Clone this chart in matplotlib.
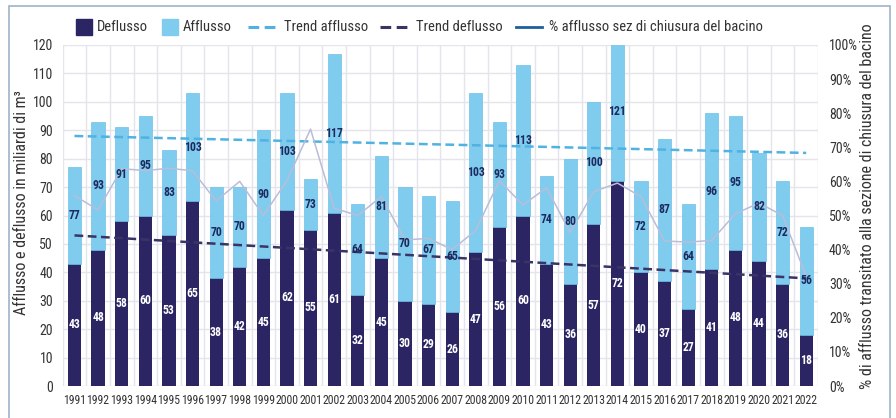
import numpy as np
import matplotlib
matplotlib.use("Agg")
import matplotlib.pyplot as plt
from matplotlib import font_manager
from matplotlib.lines import Line2D
from matplotlib.patches import Rectangle

# Data (miliardi di m3)
years = [str(y) for y in range(1991, 2023)]
afflusso = [77, 93, 91, 95, 83, 103, 70, 70, 90, 103, 73, 117, 64, 81, 70, 67,
            65, 103, 93, 113, 74, 80, 100, 121, 72, 87, 64, 96, 95, 82, 72, 56]
deflusso = [43, 48, 58, 60, 53, 65, 38, 42, 45, 62, 55, 61, 32, 45, 30, 29,
            26, 47, 56, 60, 43, 36, 57, 72, 40, 37, 27, 41, 48, 44, 36, 18]

DARK = '#2b2563'
LIGHT = '#80ccef'
TREND_A = '#4fb2e2'
TREND_D = '#3a3466'
PCT_LINE = '#b9bdd8'
PCT_LEG = '#1f5f9c'
GRID = '#e4e5eb'
TEXT = '#333333'

# pick a condensed font if there is one
names = {f.name for f in font_manager.fontManager.ttflist}
family = 'DejaVu Sans'
for cand in ['Liberation Sans Narrow', 'Roboto Condensed', 'Open Sans Condensed']:
    if cand in names:
        family = cand
        break
plt.rcParams['font.family'] = [family, 'DejaVu Sans']
if family == 'DejaVu Sans':
    plt.rcParams['font.stretch'] = 'condensed'

W, H = 896, 418
fx = lambda px: px / W
fy = lambda py: 1 - py / H

fig = plt.figure(figsize=(W / 100, H / 100), dpi=100)
ax = fig.add_axes([fx(62.7), fy(386), fx(818) - fx(62.7), fy(45) - fy(386)])
ax2 = ax.twinx()

x = np.arange(len(years))
aff = np.array(afflusso)
dfl = np.array(deflusso)

ax.bar(x, dfl, width=0.56, color=DARK, zorder=2)
ax.bar(x, aff - dfl, bottom=dfl, width=0.56, color=LIGHT, edgecolor='#6dc0ea',
       linewidth=0.5, zorder=2)

# linear trends
pa = np.polyfit(x, aff, 1)
pd_ = np.polyfit(x, dfl, 1)
ax.plot(x, np.polyval(pa, x), ls=(0, (3.5, 1.8)), color=TREND_A, lw=1.8, zorder=3)
ax.plot(x, np.polyval(pd_, x), ls=(0, (3.5, 1.8)), color=TREND_D, lw=1.8, zorder=3)

# share of afflusso passing the closing section
pct = dfl / aff * 100
ax2.plot(x, pct, color=PCT_LINE, lw=1.1, zorder=4)

ax.set_xlim(-0.5, len(years) - 0.5)
ax.set_ylim(0, 120)
ax2.set_ylim(0, 100)

ax.set_yticks(range(0, 121, 10))
ax2.set_yticks(range(0, 101, 10))
ax2.set_yticklabels([f'{v}%' for v in range(0, 101, 10)])
ax.set_xticks(x)
ax.set_xticklabels(years)
ax.set_xticks(np.arange(-0.5, len(years), 1), minor=True)

ax.grid(axis='y', color=GRID, lw=1, zorder=0)
ax.grid(axis='x', which='minor', color=GRID, lw=1, zorder=0)
ax.set_axisbelow(True)

ax.tick_params(axis='x', which='both', length=0, pad=6, labelsize=8.5, colors=TEXT)
ax.tick_params(axis='y', length=0, pad=7, labelsize=10, colors=TEXT)
ax2.tick_params(axis='y', length=0, pad=8, labelsize=10, colors=TEXT)
for a in (ax, ax2):
    for s in a.spines.values():
        s.set_visible(False)

# value labels
for i in x:
    ax2.text(i, dfl[i] / 2, str(dfl[i]), transform=ax.transData, ha='center',
             va='center', color='white', fontsize=8.5, fontweight='bold', zorder=6)
    ax2.text(i, (dfl[i] + aff[i]) / 2, str(aff[i]), transform=ax.transData,
             ha='center', va='center', color='#1c2a5e', fontsize=8.5,
             fontweight='bold', zorder=6)

# axis titles
fig.text(fx(22), fy(203), 'Afflusso e deflusso in miliardi di m³', rotation=90,
         ha='center', va='center', fontsize=11.5, color=TEXT)
fig.text(fx(867), fy(206), '% di afflusso transitato alla sezione di chiusura del bacino',
         rotation=90, ha='center', va='center', fontsize=11.5, color=TEXT)

# legend drawn by hand along the top
ly = fy(27)
fig.patches.append(Rectangle((fx(76), fy(34.5)), fx(16), fx(16) * W / H, color=DARK,
                             transform=fig.transFigure, figure=fig))
fig.text(fx(97), ly, 'Deflusso', va='center', fontsize=10.5, color=TEXT)
fig.patches.append(Rectangle((fx(162), fy(34.5)), fx(16), fx(16) * W / H, color=LIGHT,
                             transform=fig.transFigure, figure=fig))
fig.text(fx(183), ly, 'Afflusso', va='center', fontsize=10.5, color=TEXT)
fig.lines.append(Line2D([fx(248), fx(278)], [ly, ly], ls=(0, (3.5, 1.8)), lw=2.2,
                        color=TREND_A, transform=fig.transFigure))
fig.text(fx(284), ly, 'Trend afflusso', va='center', fontsize=10.5, color=TEXT)
fig.lines.append(Line2D([fx(380), fx(410)], [ly, ly], ls=(0, (3.5, 1.8)), lw=2.2,
                        color=TREND_D, transform=fig.transFigure))
fig.text(fx(416), ly, 'Trend deflusso', va='center', fontsize=10.5, color=TEXT)
fig.lines.append(Line2D([fx(516), fx(542)], [ly, ly], lw=2, color=PCT_LEG,
                        transform=fig.transFigure))
fig.text(fx(549), ly, '% afflusso sez di chiusura del bacino', va='center',
         fontsize=10.5, color=TEXT)

# thin frame around the figure (open at the bottom edge)
fig.patches.append(Rectangle((fx(9), -0.05), fx(890) - fx(9), fy(6.5) + 0.05, fill=False,
                             edgecolor='#9db3c8', lw=1.2, transform=fig.transFigure,
                             figure=fig))

fig.savefig('out.png', dpi=100)
